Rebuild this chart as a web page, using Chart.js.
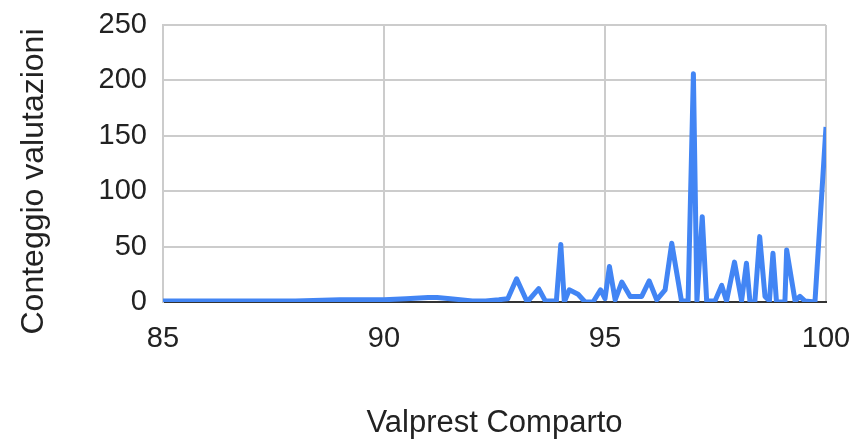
<!DOCTYPE html>
<html>
<head>
<meta charset="utf-8">
<script src="https://cdn.jsdelivr.net/npm/chart.js@4/dist/chart.umd.min.js"></script>
<style>
  html, body { margin: 0; padding: 0; background: #fff; }
  #wrap { position: relative; width: 858px; height: 442px; }
</style>
</head>
<body>
<div id="wrap"><canvas id="chart"></canvas></div>
<script>
// --- Dati ---
const valprest = [85, 86, 87, 88, 89, 90, 90.5, 91, 91.2, 91.5, 92, 92.3, 92.6, 92.8,
  93.0, 93.24, 93.5, 93.65, 93.9, 94.0, 94.08, 94.19, 94.39, 94.55, 94.73, 94.9,
  95.0, 95.1, 95.23, 95.38, 95.57, 95.83, 96.0, 96.17, 96.36, 96.51, 96.73, 96.88,
  97.0, 97.08, 97.2, 97.3, 97.49, 97.64, 97.75, 97.93, 98.09, 98.2, 98.28, 98.39,
  98.5, 98.62, 98.72, 98.8, 98.88, 99.07, 99.11, 99.3, 99.41, 99.52, 99.75, 100];
const conteggio = [1, 1, 1, 1, 2, 2, 3, 4, 4, 3, 1, 1, 2, 3,
  21, 0, 12, 1, 1, 52, 0, 11, 7, 0, 0, 11,
  3, 32, 2, 18, 5, 5, 19, 2, 11, 53, 1, 1,
  206, 1, 77, 1, 1, 15, 1, 36, 1, 35, 0, 0,
  59, 5, 1, 44, 0, 0, 47, 1, 5, 1, 0, 158];
const xTicks = [85, 90, 95, 100];
const yTicks = [0, 50, 100, 150, 200, 250];
const yTitle = 'Conteggio valutazioni';
const xTitle = 'Valprest Comparto';

const FONT = "'Liberation Sans', Arial, sans-serif";
const GRID = '#cccccc';

const points = valprest.map((x, i) => ({ x, y: conteggio[i] }));

// titolo asse Y disegnato a mano: Google lo centra un po' più in basso dell'area
const yTitlePlugin = {
    id: 'yTitle',
    afterDraw(chart) {
        const { ctx, chartArea } = chart;
        const cy = (chartArea.top + chartArea.bottom) / 2 + 18;
        ctx.save();
        ctx.translate(34, cy);
        ctx.rotate(-Math.PI / 2);
        ctx.fillStyle = '#222';
        ctx.font = `32px ${FONT}`;
        ctx.textAlign = 'center';
        ctx.textBaseline = 'middle';
        ctx.fillText(yTitle, 0, 0);
        ctx.restore();
    }
};

new Chart(document.getElementById('chart'), {
    type: 'line',
    data: {
        datasets: [{
            label: yTitle,
            data: points,
            borderColor: '#4285f4',
            borderWidth: 5,
            borderJoinStyle: 'round',
            pointRadius: 0,
            tension: 0,
            fill: false
        }]
    },
    options: {
        responsive: true,
        maintainAspectRatio: false,
        animation: false,
        layout: { padding: 0 },
        plugins: {
            legend: { display: false },
            tooltip: { enabled: false }
        },
        scales: {
            x: {
                type: 'linear',
                min: 85,
                max: 100,
                afterBuildTicks: (scale) => { scale.ticks = xTicks.map(v => ({ value: v })); },
                // margini fissi come nell'originale
                afterFit: (scale) => { scale.height = 140; scale.paddingLeft = 0; scale.paddingRight = 32; },
                ticks: { color: '#222', padding: 20, font: { family: FONT, size: 29 } },
                grid: { color: GRID, lineWidth: 2, drawTicks: false },
                border: { color: '#333', width: 2 },
                title: {
                    display: true,
                    text: xTitle,
                    color: '#222',
                    font: { family: FONT, size: 31 },
                    padding: { top: 0, bottom: 0 }
                }
            },
            y: {
                min: 0,
                max: 250,
                afterBuildTicks: (scale) => { scale.ticks = yTicks.map(v => ({ value: v })); },
                afterFit: (scale) => { scale.width = 163; scale.paddingTop = 25; scale.paddingBottom = 0; },
                ticks: { color: '#222', padding: 16, font: { family: FONT, size: 29 } },
                grid: { color: GRID, lineWidth: 2, drawTicks: false },
                border: { color: GRID, width: 2 }
            }
        }
    },
    plugins: [yTitlePlugin]
});
</script>
</body>
</html>
